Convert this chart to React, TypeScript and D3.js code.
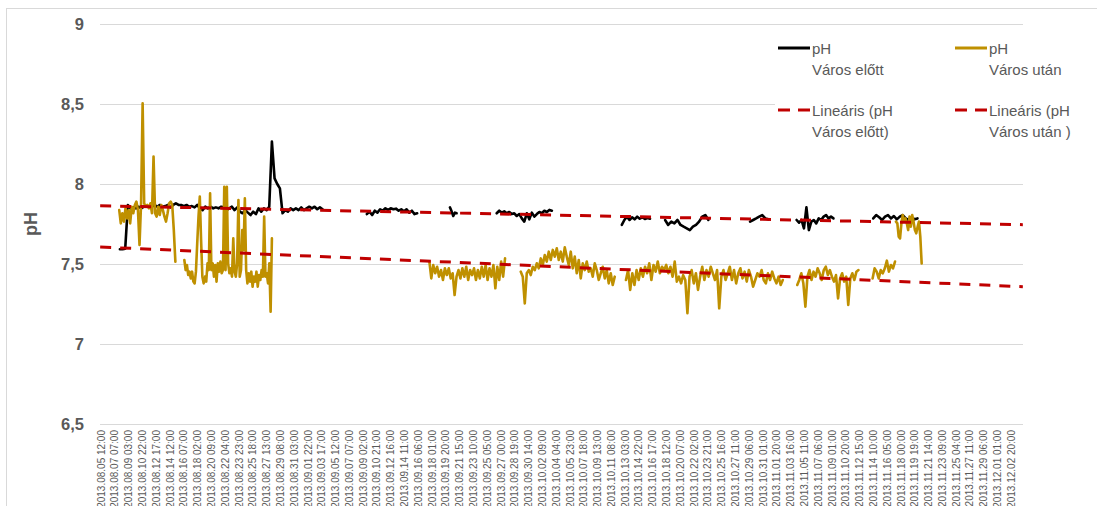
import { useEffect, useRef } from "react";
import * as d3 from "d3";

// hourly category axis, one label every 43 hours
const hourCount = 2878;
const labelEvery = 43;

const xLabels = [
  "2013.08.05 12:00", "2013.08.07 07:00", "2013.08.09 03:00", "2013.08.10 22:00", "2013.08.12 17:00",
  "2013.08.14 12:00", "2013.08.16 07:00", "2013.08.18 02:00", "2013.08.20 09:00", "2013.08.22 04:00",
  "2013.08.23 23:00", "2013.08.25 18:00", "2013.08.27 13:00", "2013.08.29 08:00", "2013.08.31 03:00",
  "2013.09.01 22:00", "2013.09.03 17:00", "2013.09.05 12:00", "2013.09.07 07:00", "2013.09.09 02:00",
  "2013.09.10 21:00", "2013.09.12 16:00", "2013.09.14 11:00", "2013.09.16 06:00", "2013.09.18 01:00",
  "2013.09.19 20:00", "2013.09.21 15:00", "2013.09.23 10:00", "2013.09.25 05:00", "2013.09.27 00:00",
  "2013.09.28 19:00", "2013.09.30 14:00", "2013.10.02 09:00", "2013.10.04 04:00", "2013.10.05 23:00",
  "2013.10.07 18:00", "2013.10.09 13:00", "2013.10.11 08:00", "2013.10.13 03:00", "2013.10.14 22:00",
  "2013.10.16 17:00", "2013.10.18 12:00", "2013.10.20 07:00", "2013.10.22 02:00", "2013.10.23 21:00",
  "2013.10.25 16:00", "2013.10.27 11:00", "2013.10.29 06:00", "2013.10.31 01:00", "2013.11.01 20:00",
  "2013.11.03 16:00", "2013.11.05 11:00", "2013.11.07 06:00", "2013.11.09 01:00", "2013.11.10 20:00",
  "2013.11.12 15:00", "2013.11.14 10:00", "2013.11.16 05:00", "2013.11.18 00:00", "2013.11.19 19:00",
  "2013.11.21 14:00", "2013.11.23 09:00", "2013.11.25 04:00", "2013.11.27 11:00", "2013.11.29 06:00",
  "2013.12.01 01:00", "2013.12.02 20:00",
];

const yTicks = [6.5, 7, 7.5, 8, 8.5, 9];

type Run = { from: number; to: number; values: number[] };

// pH Város előtt – measured runs (hour index range, readings spread evenly)
const elottRuns: Run[] = [
  { from: 62, to: 694, values: [
    7.592, 7.592, 7.596, 7.869, 7.848, 7.854, 7.848, 7.858, 7.848, 7.858,
    7.862, 7.854, 7.858, 7.869, 7.858, 7.869, 7.858, 7.862, 7.869, 7.854,
    7.869, 7.879, 7.869, 7.869, 7.862, 7.869, 7.858, 7.862, 7.854, 7.869,
    7.848, 7.837, 7.858, 7.848, 7.858, 7.848, 7.854, 7.848, 7.858, 7.854,
    7.837, 7.848, 7.858, 7.837, 7.854, 7.827, 7.817, 7.837, 7.821, 7.806,
    7.827, 7.812, 7.848, 7.827, 7.848, 7.837, 7.858, 8.265, 8.035, 8.0,
    7.973, 7.817, 7.837, 7.827, 7.848, 7.837, 7.848, 7.837, 7.854, 7.837,
    7.848, 7.858, 7.848, 7.858, 7.842, 7.854, 7.842] },
  { from: 832, to: 989, values: [
    7.812, 7.827, 7.806, 7.833, 7.821, 7.842, 7.833, 7.848, 7.838, 7.848,
    7.842, 7.846, 7.833, 7.842, 7.829, 7.842, 7.821, 7.833, 7.812, 7.817] },
  { from: 1091, to: 1112, values: [7.854, 7.829, 7.8, 7.821, 7.817] },
  { from: 1237, to: 1409, values: [
    7.817, 7.833, 7.821, 7.829, 7.817, 7.825, 7.812, 7.817, 7.8, 7.812,
    7.785, 7.765, 7.817, 7.779, 7.821, 7.796, 7.812, 7.825, 7.817, 7.833,
    7.825, 7.838, 7.833] },
  { from: 1627, to: 1715, values: [7.744, 7.775, 7.796, 7.775, 7.792, 7.779, 7.796, 7.783, 7.792, 7.781, 7.787, 7.783] },
  { from: 1762, to: 1897, values: [7.775, 7.744, 7.765, 7.754, 7.775, 7.744, 7.733, 7.723, 7.712, 7.733, 7.744, 7.765, 7.796, 7.806, 7.775] },
  { from: 2027, to: 2084, values: [7.765, 7.775, 7.785, 7.796, 7.806, 7.785, 7.779] },
  { from: 2172, to: 2287, values: [7.775, 7.758, 7.775, 7.723, 7.854, 7.712, 7.765, 7.775, 7.754, 7.785, 7.775, 7.796, 7.806, 7.785, 7.796, 7.785] },
  { from: 2411, to: 2549, values: [7.785, 7.806, 7.792, 7.775, 7.796, 7.806, 7.785, 7.8, 7.779, 7.796, 7.806, 7.785, 7.775, 7.792, 7.779, 7.785] },
];

// pH Város után
const utanRuns: Run[] = [
  { from: 60, to: 235, values: [
    7.837, 7.754, 7.817, 7.765, 7.848, 7.785, 7.837, 7.754, 7.858, 7.817,
    7.869, 7.89, 7.837, 7.619, 7.879, 8.504, 7.879, 7.858, 7.869, 7.848,
    7.879, 7.817, 8.171, 7.817, 7.796, 7.858, 7.806, 7.869, 7.837, 7.796,
    7.765, 7.817, 7.879, 7.89, 7.869, 7.712, 7.515] },
  { from: 263, to: 536, values: [
    7.525, 7.462, 7.494, 7.431, 7.452, 7.41, 7.452, 7.39, 7.379, 7.452,
    7.629, 7.796, 7.921, 7.65, 7.421, 7.379, 7.421, 7.39, 7.504, 7.462,
    7.942, 7.462, 7.504, 7.421, 7.494, 7.39, 7.504, 7.452, 7.515, 7.442,
    7.462, 7.983, 7.462, 7.983, 7.504, 7.442, 7.473, 7.421, 7.66, 7.452,
    7.421, 7.504, 7.9, 7.421, 7.462, 7.712, 7.587, 7.91, 7.462, 7.379,
    7.442, 7.39, 7.452, 7.358, 7.421, 7.39, 7.452, 7.358, 7.431, 7.4,
    7.462, 7.421, 7.796, 7.421, 7.442, 7.379, 7.504, 7.202, 7.66] },
  { from: 1027, to: 1263, values: [
    7.515, 7.41, 7.494, 7.442, 7.483, 7.421, 7.462, 7.4, 7.473, 7.431,
    7.473, 7.41, 7.442, 7.306, 7.421, 7.462, 7.41, 7.473, 7.421, 7.483,
    7.4, 7.462, 7.431, 7.473, 7.4, 7.462, 7.41, 7.483, 7.421, 7.494,
    7.4, 7.473, 7.421, 7.494, 7.348, 7.483, 7.4, 7.515, 7.421, 7.535] },
  { from: 1312, to: 1605, values: [
    7.452, 7.421, 7.254, 7.442, 7.462, 7.431, 7.483, 7.462, 7.504, 7.473,
    7.535, 7.494, 7.556, 7.515, 7.577, 7.525, 7.588, 7.546, 7.598, 7.525,
    7.577, 7.515, 7.604, 7.546, 7.494, 7.577, 7.473, 7.546, 7.442, 7.525,
    7.41, 7.504, 7.462, 7.515, 7.452, 7.473, 7.421, 7.504, 7.462, 7.4,
    7.442, 7.483, 7.41, 7.462, 7.379, 7.442, 7.369, 7.421] },
  { from: 1640, to: 2129, values: [
    7.4, 7.462, 7.338, 7.442, 7.369, 7.462, 7.4, 7.473, 7.421, 7.483,
    7.442, 7.504, 7.4, 7.494, 7.452, 7.515, 7.442, 7.483, 7.462, 7.494,
    7.442, 7.483, 7.421, 7.515, 7.39, 7.421, 7.379, 7.43, 7.4,
    7.192, 7.421, 7.462, 7.379, 7.442, 7.338, 7.421, 7.483, 7.4, 7.462,
    7.421, 7.483, 7.442, 7.4, 7.462, 7.223, 7.421, 7.462, 7.4, 7.442,
    7.483, 7.4, 7.462, 7.379, 7.442, 7.473, 7.41, 7.452, 7.39, 7.462,
    7.421, 7.358, 7.4, 7.442, 7.421, 7.462, 7.4, 7.379, 7.442, 7.4,
    7.452, 7.41, 7.379, 7.421, 7.369, 7.4] },
  { from: 2174, to: 2365, values: [
    7.369, 7.4, 7.442, 7.379, 7.233, 7.421, 7.462, 7.4, 7.452, 7.421,
    7.473, 7.442, 7.4, 7.462, 7.483, 7.431, 7.462, 7.421, 7.39, 7.431,
    7.285, 7.41, 7.442, 7.39, 7.421, 7.244, 7.41, 7.442, 7.4, 7.452, 7.462] },
  { from: 2409, to: 2479, values: [7.41, 7.473, 7.452, 7.41, 7.462, 7.442, 7.473, 7.521, 7.452, 7.494, 7.473, 7.515] },
  { from: 2482, to: 2562, values: [
    7.765, 7.754, 7.671, 7.66, 7.754, 7.806, 7.765, 7.785, 7.754, 7.712,
    7.796, 7.733, 7.806, 7.765, 7.712, 7.692, 7.733, 7.765, 7.671, 7.504] },
];

// linear trend lines: value at first and last hour
const elottTrend = [7.864, 7.746];
const utanTrend = [7.606, 7.358];

const legendItems = [
  { lines: ["pH", "Város előtt"], color: "#000000", dashed: false },
  { lines: ["pH", "Város után"], color: "#bf9000", dashed: false },
  { lines: ["Lineáris (pH", "Város előtt)"], color: "#c00000", dashed: true },
  { lines: ["Lineáris (pH", "Város után )"], color: "#c00000", dashed: true },
];

export default function App() {
  const ref = useRef<SVGSVGElement>(null);

  useEffect(() => {
    const svg = d3.select(ref.current);
    svg.selectAll("*").remove();

    const left = 100, right = 1023, top = 24, bottom = 424;
    const textColor = "#595959";
    const grid = "#d9d9d9";

    const x = d3.scaleLinear().domain([0, hourCount]).range([left, right]);
    const y = d3.scaleLinear().domain([6.5, 9]).range([bottom, top]);

    // chart border
    svg.append("rect")
      .attr("x", 6.5).attr("y", 8.5)
      .attr("width", 1200).attr("height", 600)
      .attr("fill", "#fff").attr("stroke", grid);

    // gridlines
    svg.selectAll(".grid")
      .data(yTicks)
      .enter()
      .append("line")
      .attr("x1", left).attr("x2", right)
      .attr("y1", d => Math.round(y(d)) + 0.5)
      .attr("y2", d => Math.round(y(d)) + 0.5)
      .attr("stroke", grid)
      .attr("stroke-width", 1);

    // y tick labels
    svg.selectAll(".ytick")
      .data(yTicks)
      .enter()
      .append("text")
      .attr("x", 84)
      .attr("y", d => y(d))
      .attr("dy", "0.36em")
      .attr("text-anchor", "end")
      .attr("font-family", "'Liberation Sans', Arial, sans-serif")
      .attr("font-weight", "bold")
      .attr("font-size", 16.5)
      .attr("fill", textColor)
      .text(d => String(d).replace(".", ","));

    // y title
    svg.append("text")
      .attr("transform", `translate(31,${(top + bottom) / 2}) rotate(-90)`)
      .attr("text-anchor", "middle")
      .attr("dy", "0.36em")
      .attr("font-family", "'Liberation Sans', Arial, sans-serif")
      .attr("font-weight", "bold")
      .attr("font-size", 18)
      .attr("fill", textColor)
      .text("pH");

    // x labels (rotated)
    svg.selectAll(".xtick")
      .data(xLabels)
      .enter()
      .append("text")
      .attr("transform", (d, i) => `translate(${x(i * labelEvery + 0.5) + 1},430) rotate(-90)`)
      .attr("text-anchor", "end")
      .attr("dy", "0.35em")
      .attr("font-family", "'Liberation Sans', Arial, sans-serif")
      .attr("font-size", 10)
      .attr("fill", textColor)
      .text(d => d);

    const line = d3.line<[number, number]>()
      .x(d => x(d[0]))
      .y(d => y(d[1]));

    const toPoints = (r: Run): [number, number][] =>
      r.values.map((v, i) => [r.from + (i * (r.to - r.from)) / (r.values.length - 1), v]);

    const drawRuns = (runs: Run[], color: string) => {
      svg.append("g")
        .selectAll("path")
        .data(runs)
        .enter()
        .append("path")
        .attr("d", r => line(toPoints(r)))
        .attr("fill", "none")
        .attr("stroke", color)
        .attr("stroke-width", 2.6)
        .attr("stroke-linejoin", "round")
        .attr("stroke-linecap", "round");
    };

    drawRuns(elottRuns, "#000000");
    drawRuns(utanRuns, "#bf9000");

    // trend lines
    [elottTrend, utanTrend].forEach(t => {
      svg.append("path")
        .attr("d", line([[0.5, t[0]], [hourCount - 0.5, t[1]]]))
        .attr("fill", "none")
        .attr("stroke", "#c00000")
        .attr("stroke-width", 3)
        .attr("stroke-dasharray", "11,9");
    });

    // legend
    const legend = svg.append("g");
    legend.append("rect")
      .attr("x", 775).attr("y", 34)
      .attr("width", 315).attr("height", 112)
      .attr("fill", "#fff");

    const cols = [778, 955];
    const rows = [48, 110];
    legendItems.forEach((item, i) => {
      const lx = cols[i % 2];
      const ly = rows[Math.floor(i / 2)];
      legend.append("line")
        .attr("x1", lx).attr("x2", lx + 32)
        .attr("y1", ly).attr("y2", ly)
        .attr("stroke", item.color)
        .attr("stroke-width", 3)
        .attr("stroke-dasharray", item.dashed ? "12,8" : null);
      const t = legend.append("text")
        .attr("x", lx + 34)
        .attr("y", ly + 6)
        .attr("font-family", "'Liberation Sans', Arial, sans-serif")
        .attr("font-size", 15)
        .attr("fill", textColor);
      item.lines.forEach((s, j) => {
        t.append("tspan")
          .attr("x", lx + 34)
          .attr("dy", j === 0 ? 0 : 21)
          .text(s);
      });
    });
  }, []);

  return (
    <svg
      ref={ref}
      width={1097}
      height={506}
      style={{ position: "absolute", left: 0, top: 0 }}
    />
  );
}
